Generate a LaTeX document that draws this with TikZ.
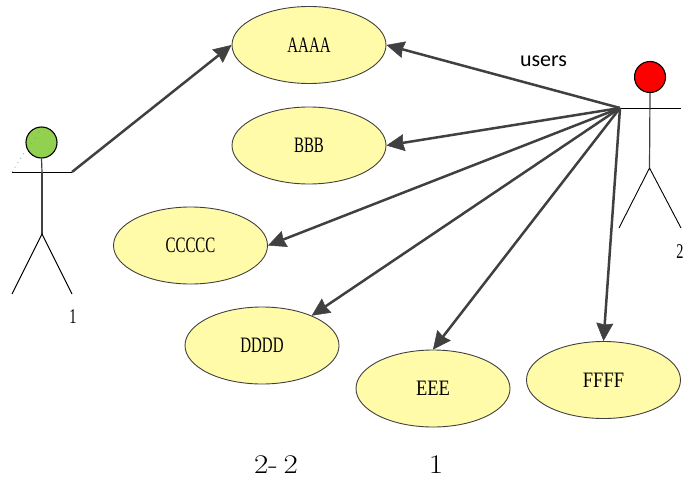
\documentclass[tikz,border=0pt]{standalone}
\usepackage{fontspec}
\usetikzlibrary{shapes.geometric,arrows.meta}
\newfontfamily\narrowserif[FakeStretch=0.68]{Liberation Serif}
\newfontfamily\midserif[FakeStretch=0.84]{Liberation Serif}
\newfontfamily\usersfont{Carlito}
\newfontfamily\bigserif[FakeStretch=1.15]{Latin Modern Roman}
\definecolor{usefill}{HTML}{FFFBA8}
\definecolor{linegray}{HTML}{404040}
\definecolor{headgreen}{HTML}{92D050}
\tikzset{
  usecase/.style={ellipse,draw=linegray,fill=usefill,line width=0.9pt,minimum width=154pt,minimum height=77pt,inner sep=0pt,font=\narrowserif\fontsize{22}{22}\selectfont},
  widecase/.style={usecase,font=\midserif\fontsize{22}{22}\selectfont},
  assoc/.style={draw=linegray,line width=2.5pt,-{Stealth[length=18pt,width=17pt,inset=1.5pt,line width=0.5pt]},shorten >=0pt},
  limb/.style={draw=black,line width=0.9pt},
  torso/.style={draw=linegray,line width=1.2pt},
  head/.style={circle,draw=black,line width=1.1pt,minimum size=31pt,inner sep=0pt},
  serifnote/.style={font=\narrowserif\fontsize{21}{21}\selectfont,inner sep=0pt}
}
\begin{document}
\begin{tikzpicture}[x=1pt,y=-1pt]
\useasboundingbox (0,0) rectangle (684,484);
\clip (0,0) rectangle (684,484);
% use cases
\node[usecase] (a) at (309,45) {AAAA};
\node[usecase] (b) at (309,145.5) {BBB};
\node[usecase] (c) at (190.5,245.5) {CCCCC};
\node[usecase] (d) at (262,345.5) {DDDD};
\node[widecase] (e) at (433,388.5) {EEE};
\node[widecase] (f) at (603.5,380) {FFFF};
% left actor
\coordinate (lhandL) at (12,172);
\coordinate (lhandR) at (72,172);
\coordinate (lhip) at (42,234);
\coordinate (lneck) at (42,172);
\coordinate (lfootL) at (12,294);
\coordinate (lfootR) at (72,294);
\coordinate (ldotEnd) at (26,150);
\draw[limb] (lhandL) -- (lhandR);
\draw[torso] (lneck) -- (lhip);
\draw[limb] (lfootL) -- (lhip) -- (lfootR);
\draw[gray,line width=0.7pt,dash pattern=on 0.8pt off 4.5pt] (lhandL) -- (ldotEnd);
\node[head,fill=headgreen] (lhead) at (41.5,142.5) {};
\draw[torso] (lhead.south) -- (lneck);
\fill[gray] (31,143) circle (0.5pt) (35,138) circle (0.5pt) (38.5,132) circle (0.5pt);
\node[serifnote] (lone) at (73,317) {1};
% right actor
\coordinate (rhandL) at (620,108);
\coordinate (rhandR) at (681,108);
\coordinate (rhip) at (649.5,168);
\coordinate (rneck) at (649.5,108);
\coordinate (rfootL) at (619,228);
\coordinate (rfootR) at (681,228);
\draw[limb] (rhandL) -- (rhandR);
\draw[limb] (rfootL) -- (rhip) -- (rfootR);
\node[head,fill=red] (rhead) at (650,77) {};
\draw[torso] (rhead.south) -- (rhip);
\node[serifnote] (rtwo) at (680,252) {2};
% connectors
\draw[assoc] (lhandR) -- (a.west);
\draw[assoc] (rhandL) -- (a.east);
\draw[assoc] (rhandL) -- (b.east);
\draw[assoc] (rhandL) -- (c.east);
\draw[assoc] (rhandL) -- (d.31);
\draw[assoc] (rhandL) -- (e.north);
\draw[assoc] (rhandL) -- (f.north);
% labels
\node[font=\usersfont\fontsize{22}{22}\selectfont,inner sep=0pt] (users) at (543.5,61) {users};
\node[font=\bigserif\fontsize{27}{27}\selectfont,inner sep=0pt] (cap) at (276,465) {2-\hspace{-3.5pt} 2};
\node[font=\bigserif\fontsize{27}{27}\selectfont,inner sep=0pt] (capb) at (436,465) {1};
\end{tikzpicture}
\end{document}
